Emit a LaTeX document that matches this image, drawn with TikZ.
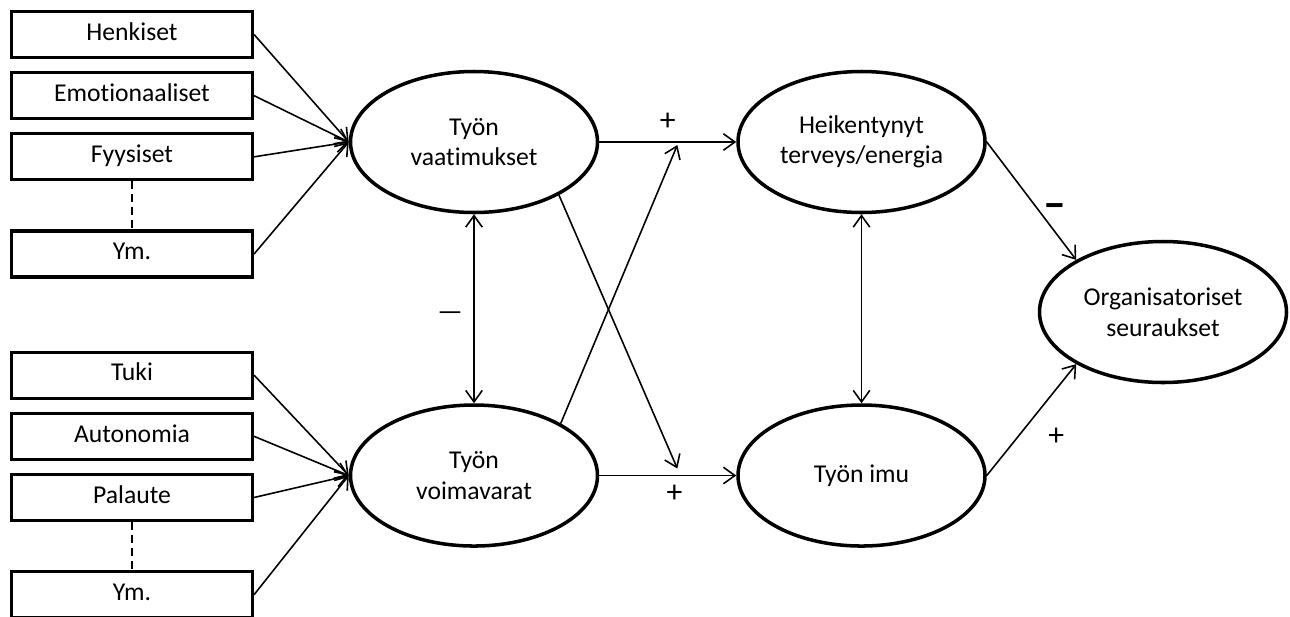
\documentclass[tikz,border=0pt]{standalone}
\usepackage{fontspec}
\setmainfont{Carlito}[Ligatures=NoCommon]
\usetikzlibrary{arrows.meta,positioning,calc,shapes.geometric}

\begin{document}
\begin{tikzpicture}[
    node distance=0.24cm,
    every node/.style={font=\fontsize{14.6}{17.4}\selectfont},
    factor/.style={rectangle, draw, line width=1.8pt, minimum width=4.82cm, minimum height=0.92cm, inner sep=0pt, text height=0.9em, text depth=0.25em},
    latent/.style={ellipse, draw, line width=2pt, minimum width=4.94cm, minimum height=2.82cm, align=center, inner sep=0pt},
    sign/.style={font=\fontsize{18}{20}\selectfont, inner sep=0pt},
    minus/.style={font=\fontsize{26}{28}\selectfont, inner sep=0pt},
    link/.style={-{Straight Barb[length=2.3mm, width=3.3mm]}, line width=0.9pt},
    twoway/.style={{Straight Barb[length=2.3mm, width=3.3mm]}-{Straight Barb[length=2.3mm, width=3.3mm]}, line width=0.9pt},
]
\useasboundingbox (0,0) rectangle (25.8,-12.32);

% Job demands and their sources
\node[factor] (henk) at (2.64,-0.69) {Henkiset};
\node[factor, below=of henk] (emot) {Emotionaaliset};
\node[factor, below=of emot] (fyys) {Fyysiset};
\node[factor, below=0.96cm of fyys] (muut1) {Ym.};

% Job resources and their sources
\node[factor, below=1.44cm of muut1] (tuki) {Tuki};
\node[factor, below=of tuki] (auto) {Autonomia};
\node[factor, below=of auto] (pala) {Palaute};
\node[factor, below=0.96cm of pala] (muut2) {Ym.};

% Latent variables
\node[latent] (dem) at (9.48,-2.84) {Työn\\vaatimukset};
\node[latent, below=3.78cm of dem] (res) {Työn\\voimavarat};
\node[latent, right=2.74cm of dem] (hea) {Heikentynyt\\terveys/energia};
\node[latent, right=2.74cm of res] (imu) {Työn imu};
\node[latent] (org) at (23.26,-6.24) {Organisatoriset\\seuraukset};

% Sources into demands / resources
\foreach \src in {henk,emot,fyys,muut1}
    \draw[link] (\src.east) -- (dem.west);
\foreach \src in {tuki,auto,pala,muut2}
    \draw[link] (\src.east) -- (res.west);
\draw[line width=1.7pt, dash pattern=on 0.16cm off 0.1cm] (fyys) -- (muut1);
\draw[line width=1.7pt, dash pattern=on 0.16cm off 0.1cm] (pala) -- (muut2);

% Main paths
\draw[twoway] (dem) -- node[inner sep=0pt, font=\fontsize{16}{18}\selectfont, xshift=-0.48cm, yshift=-0.14cm] {\textemdash} (res);
\draw[link] (dem.east) -- node[sign, above=0.21cm] {+} (hea.west);
\draw[link] (res.east) -- node[sign, pos=0.55, below=0.17cm] {+} (imu.west);

% Cross paths
\coordinate (xtop) at ($(dem.east)!0.57!(hea.west)+(0,-0.06)$);
\coordinate (xbot) at ($(res.east)!0.57!(imu.west)+(0,0.14)$);
\draw[link] (dem.-32) -- (xbot);
\draw[link] (res.31) -- (xtop);

% Outcomes
\draw[twoway] (hea) -- (imu);
\draw[link] (hea.east) -- node[minus, xshift=0.46cm, yshift=-0.2cm] {\textbf{\textendash}} (org.149);
\draw[link] (imu.east) -- node[sign, below right=0.15cm and 0.32cm] {+} (org.211);

\end{tikzpicture}
\end{document}
